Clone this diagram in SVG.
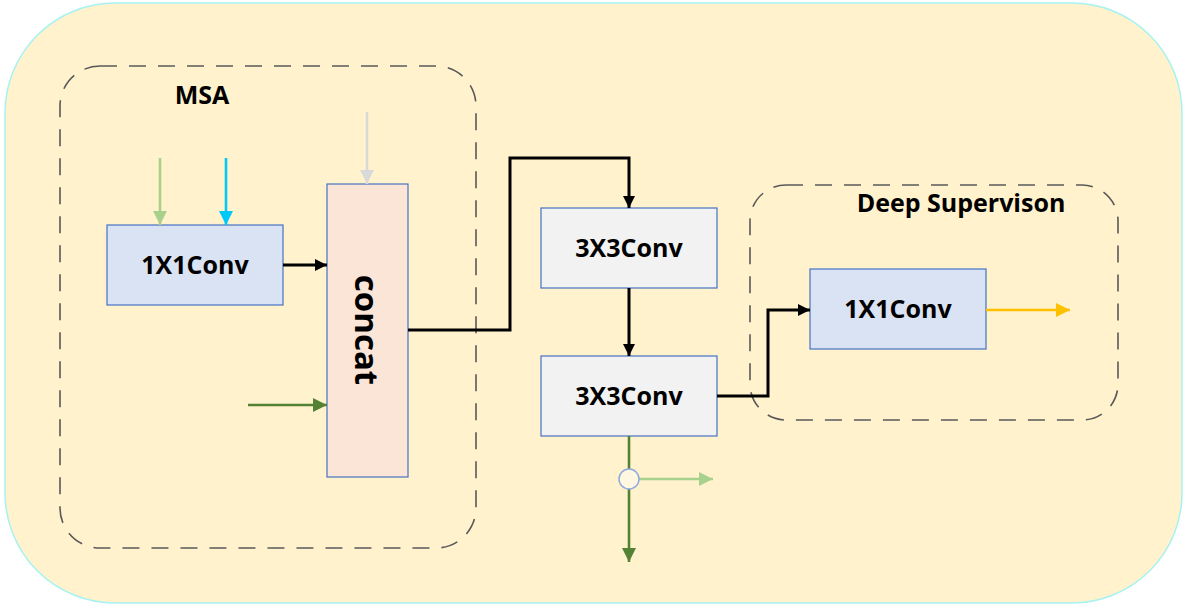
<svg xmlns="http://www.w3.org/2000/svg" width="1187" height="612" viewBox="0 0 1187 612">
<defs>
<style>
.lbl{font-family:"Open Sans","Noto Sans","Liberation Sans",sans-serif;font-weight:bold;fill:#000;text-anchor:middle}
.box{stroke-width:1.2}
.dash{fill:none;stroke:#595959;stroke-width:1.6;stroke-dasharray:17 12}
.blk{fill:none;stroke:#000;stroke-width:3}
</style>
<marker id="ahBlack" viewBox="0 0 10 10" refX="10" refY="5" markerWidth="4" markerHeight="4" orient="auto" markerUnits="strokeWidth"><path d="M0,0L10,5L0,10z" fill="#000"/></marker>
<marker id="ahLG" viewBox="0 0 10 10" refX="10" refY="5" markerWidth="5.5" markerHeight="5.5" orient="auto" markerUnits="strokeWidth"><path d="M0,0L10,5L0,10z" fill="#A9D18E"/></marker>
<marker id="ahCy" viewBox="0 0 10 10" refX="10" refY="5" markerWidth="5.5" markerHeight="5.5" orient="auto" markerUnits="strokeWidth"><path d="M0,0L10,5L0,10z" fill="#00C8F8"/></marker>
<marker id="ahGr" viewBox="0 0 10 10" refX="10" refY="5" markerWidth="5.5" markerHeight="5.5" orient="auto" markerUnits="strokeWidth"><path d="M0,0L10,5L0,10z" fill="#D9D9D9"/></marker>
<marker id="ahDG" viewBox="0 0 10 10" refX="10" refY="5" markerWidth="5.5" markerHeight="5.5" orient="auto" markerUnits="strokeWidth"><path d="M0,0L10,5L0,10z" fill="#548235"/></marker>
<marker id="ahY" viewBox="0 0 10 10" refX="10" refY="5" markerWidth="5.5" markerHeight="5.5" orient="auto" markerUnits="strokeWidth"><path d="M0,0L10,5L0,10z" fill="#FFC000"/></marker>
</defs>
<g id="background">
<rect x="5" y="3" width="1177" height="600" rx="110" ry="110" fill="#FFF2CC" stroke="#A6F2F2" stroke-width="1.5"/>
</g>
<g id="msa-group">
<rect class="dash" x="60" y="66" width="416" height="482" rx="40" ry="40"/>
<text class="lbl" x="202" y="104" font-size="25">MSA</text>
</g>
<g id="deep-supervision-group">
<rect class="dash" x="750" y="185" width="368" height="235" rx="36" ry="36"/>
<text class="lbl" x="961" y="212" font-size="25">Deep Supervison</text>
</g>
<g id="conv1x1-a">
<rect class="box" x="107" y="225" width="176" height="80" fill="#DAE3F3" stroke="#4472C4"/>
<text class="lbl" x="195" y="274" font-size="25">1X1Conv</text>
</g>
<g id="concat">
<rect class="box" x="327" y="184" width="81" height="293" fill="#FBE5D6" stroke="#4472C4"/>
<text class="lbl" x="0" y="0" font-size="33" transform="translate(355,330) rotate(90)">concat</text>
</g>
<g id="conv3x3-a">
<rect class="box" x="541" y="208" width="176" height="80" fill="#F2F2F2" stroke="#4472C4"/>
<text class="lbl" x="629" y="257" font-size="25">3X3Conv</text>
</g>
<g id="conv3x3-b">
<rect class="box" x="541" y="356" width="176" height="80" fill="#F2F2F2" stroke="#4472C4"/>
<text class="lbl" x="629" y="405" font-size="25">3X3Conv</text>
</g>
<g id="conv1x1-b">
<rect class="box" x="810" y="269" width="176" height="80" fill="#DAE3F3" stroke="#4472C4"/>
<text class="lbl" x="898" y="318" font-size="25">1X1Conv</text>
</g>
<g id="connectors">
<line x1="160" y1="158" x2="160" y2="225" stroke="#A9D18E" stroke-width="2.6" marker-end="url(#ahLG)"/>
<line x1="226" y1="158" x2="226" y2="225" stroke="#00C8F8" stroke-width="2.6" marker-end="url(#ahCy)"/>
<line x1="367" y1="112" x2="367" y2="184" stroke="#D9D9D9" stroke-width="2.6" marker-end="url(#ahGr)"/>
<line x1="283" y1="265" x2="327" y2="265" class="blk" marker-end="url(#ahBlack)"/>
<line x1="248" y1="405" x2="327" y2="405" stroke="#548235" stroke-width="2.6" marker-end="url(#ahDG)"/>
<polyline points="408,330 510,330 510,158 629,158 629,208" class="blk" marker-end="url(#ahBlack)"/>
<line x1="629" y1="288" x2="629" y2="356" class="blk" marker-end="url(#ahBlack)"/>
<polyline points="717,396 768,396 768,310 810,310" class="blk" marker-end="url(#ahBlack)"/>
<line x1="986" y1="310" x2="1070" y2="310" stroke="#FFC000" stroke-width="2.6" marker-end="url(#ahY)"/>
<line x1="629" y1="436" x2="629" y2="562" stroke="#548235" stroke-width="2.6" marker-end="url(#ahDG)"/>
<line x1="639" y1="479" x2="713" y2="479" stroke="#A9D18E" stroke-width="2.6" marker-end="url(#ahLG)"/>
<circle cx="629" cy="479" r="10" fill="#FFF7E0" stroke="#8FAADC" stroke-width="1.5"/>
</g>
</svg>
